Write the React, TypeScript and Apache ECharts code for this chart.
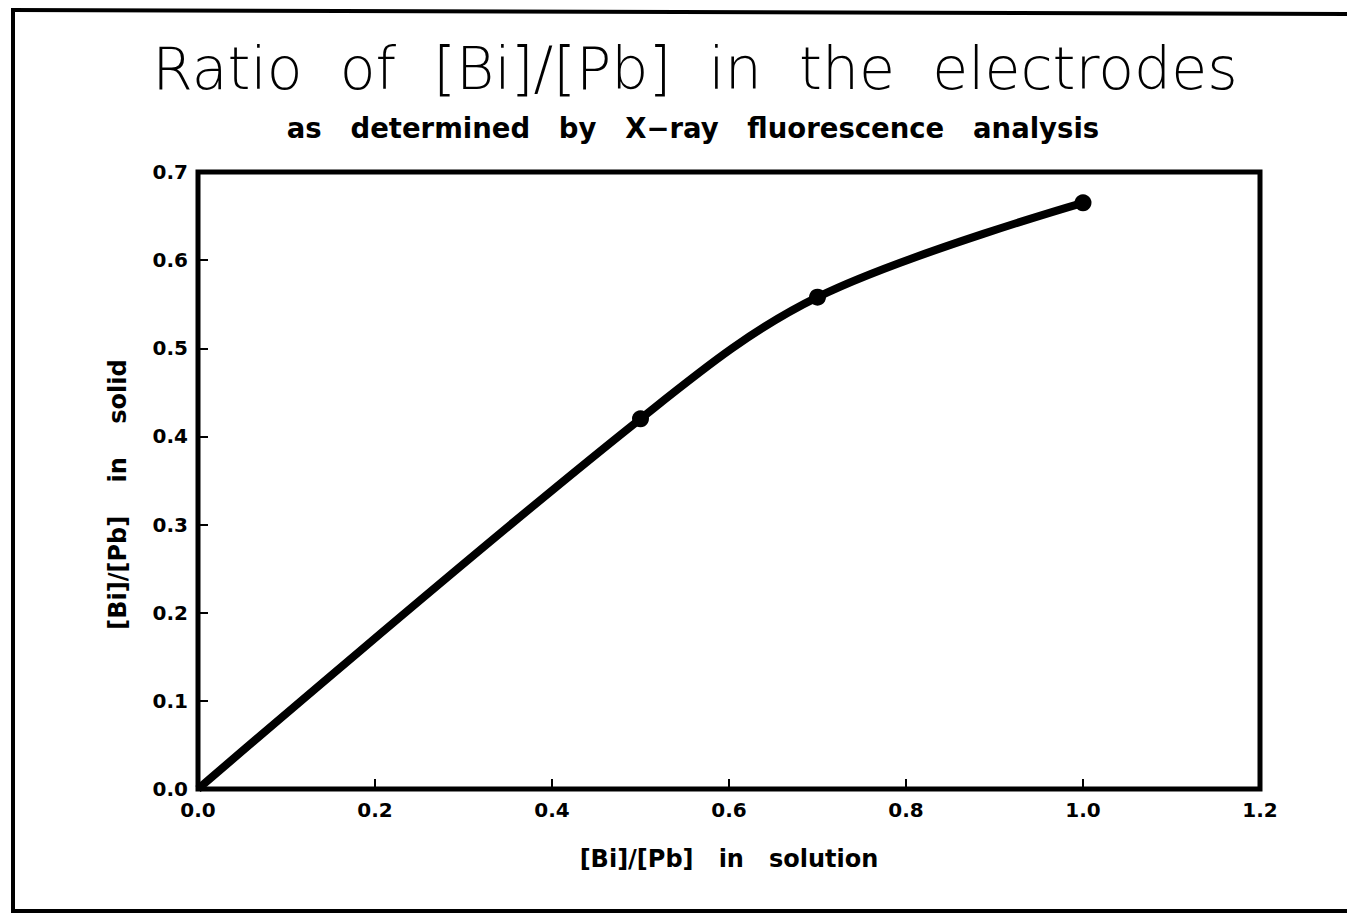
import React, { useEffect, useRef } from "react";
import * as echarts from "echarts";

// [Bi]/[Pb] ratio in solution vs. in the deposited solid
const solutionRatio = [0.0, 0.5, 0.7, 1.0];
const solidRatio = [0.0, 0.42, 0.558, 0.665];
const showMarker = [false, true, true, true];

const xTicks = { min: 0, max: 1.2, interval: 0.2 };
const yTicks = { min: 0, max: 0.7, interval: 0.1 };

const gap = (n: number) => "\u00a0".repeat(n);
const titleWords = ["Ratio", "of", "[Bi]/[Pb]", "in", "the", "electrodes"];
const subtitleWords = ["as", "determined", "by", "X\u2212ray", "fluorescence", "analysis"];
const xNameWords = ["[Bi]/[Pb]", "in", "solution"];
const yNameWords = ["[Bi]/[Pb]", "in", "solid"];

const FONT = "'DejaVu Sans', 'Noto Sans', sans-serif";

export default function App() {
  const ref = useRef<HTMLDivElement>(null);

  useEffect(() => {
    if (!ref.current) return;
    const chart = echarts.init(ref.current, undefined, { renderer: "svg" });

    const data = solutionRatio.map((x, i) => ({
      value: [x, solidRatio[i]],
      symbolSize: showMarker[i] ? 17 : 0,
    }));

    const labelStyle = {
      fontFamily: FONT,
      fontWeight: "bold",
      fontSize: 20,
      color: "#000",
      formatter: (v: number) => v.toFixed(1),
    };

    chart.setOption({
      animation: false,
      backgroundColor: "#ffffff",
      title: [
        {
          text: titleWords.join(gap(2)),
          left: 690,
          top: 34,
          textAlign: "center",
          textStyle: { fontFamily: FONT, fontWeight: 200, fontSize: 58.5, color: "#000" },
        },
        {
          text: subtitleWords.join(gap(3)),
          left: 688,
          top: 109,
          textAlign: "center",
          textStyle: { fontFamily: FONT, fontWeight: "bold", fontSize: 27.5, color: "#000" },
        },
      ],
      grid: {
        left: 198,
        right: 87,
        top: 172,
        bottom: 125,
        show: true,
        borderColor: "#000",
        borderWidth: 5,
        backgroundColor: "transparent",
      },
      xAxis: {
        type: "value",
        min: xTicks.min,
        max: xTicks.max,
        interval: xTicks.interval,
        name: xNameWords.join(gap(3)),
        nameLocation: "middle",
        nameGap: 58,
        nameTextStyle: { fontFamily: FONT, fontWeight: "bold", fontSize: 24, color: "#000" },
        axisLine: { show: false },
        axisTick: { show: true, inside: true, length: 10, lineStyle: { color: "#000", width: 2 } },
        splitLine: { show: false },
        axisLabel: { ...labelStyle, margin: 11 },
      },
      yAxis: {
        type: "value",
        min: yTicks.min,
        max: yTicks.max,
        interval: yTicks.interval,
        name: yNameWords.join(gap(4)),
        nameLocation: "middle",
        nameGap: 68,
        nameTextStyle: {
          fontFamily: FONT,
          fontWeight: "bold",
          fontSize: 24,
          color: "#000",
          padding: [0, 28, 0, 0],
        },
        axisLine: { show: false },
        axisTick: { show: true, inside: true, length: 10, lineStyle: { color: "#000", width: 2 } },
        splitLine: { show: false },
        axisLabel: { ...labelStyle, margin: 10 },
      },
      series: [
        {
          type: "line",
          data,
          smooth: 0.35,
          symbol: "circle",
          showAllSymbol: true,
          lineStyle: { color: "#000", width: 8 },
          itemStyle: { color: "#000" },
          z: 5,
        },
      ],
      graphic: [
        { type: "line", shape: { x1: 13, y1: 8, x2: 13, y2: 912 }, style: { stroke: "#000", lineWidth: 4 } },
        { type: "line", shape: { x1: 11, y1: 10, x2: 1347, y2: 14 }, style: { stroke: "#000", lineWidth: 4 } },
        { type: "line", shape: { x1: 11, y1: 911, x2: 1347, y2: 911 }, style: { stroke: "#000", lineWidth: 4 } },
      ],
    });

    return () => chart.dispose();
  }, []);

  return (
    <div
      ref={ref}
      style={{ position: "fixed", left: 0, top: 0, width: 1347, height: 914, background: "#fff" }}
    />
  );
}
